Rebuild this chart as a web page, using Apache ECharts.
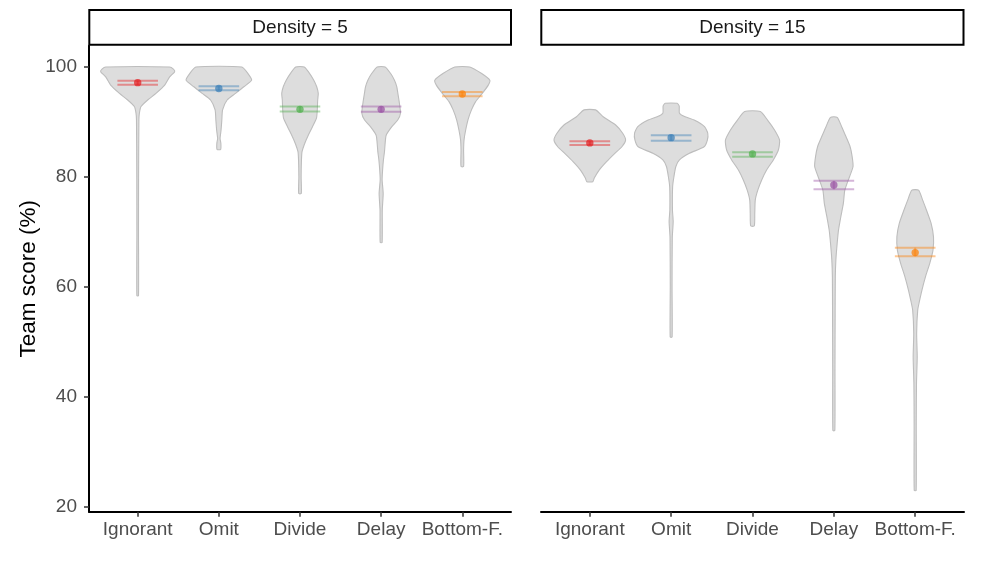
<!DOCTYPE html>
<html>
<head>
<meta charset="utf-8">
<script src="https://cdn.jsdelivr.net/npm/echarts@6/dist/echarts.min.js"></script>
<style>html,body{margin:0;padding:0;background:#fff}#c{width:988px;height:581px}</style>
</head>
<body>
<div id="c"></div>
<script>
// ---- data ----
const categories = ['Ignorant', 'Omit', 'Divide', 'Delay', 'Bottom-F.'];
const panels = ['Density = 5', 'Density = 15'];
const yTickValues = [20, 40, 60, 80, 100];
const palette = ['#E41A1C', '#377EB8', '#4DAF4A', '#984EA3', '#FF7F00'];

// violin profiles: [score, half-width in category units]
const violinD5Ignorant = [[100,0.394],[99.6,0.44],[99.15,0.456],[98.2,0.394],[96.7,0.333],[95.2,0.225],[94.0,0.123],[92.8,0.041],[91.6,0.021],[90.4,0.015],[80,0.011],[70,0.010],[58.4,0.010]];
const violinD5Omit = [[100,0.283],[98.85,0.357],[97.6,0.404],[96.4,0.308],[95.2,0.206],[94.0,0.102],[92.2,0.046],[90.4,0.037],[88.5,0.027],[87.0,0.015],[86.1,0.025],[85.0,0.022]];
const violinD5Divide = [[100,0.052],[98.85,0.117],[97.6,0.170],[96.4,0.206],[95.2,0.225],[94.0,0.218],[92.2,0.213],[90.7,0.203],[89.15,0.154],[87.6,0.102],[86.1,0.058],[84.6,0.025],[83.1,0.018],[80,0.014],[77.0,0.016]];
const violinD5Delay = [[100,0.049],[98.85,0.115],[97.6,0.164],[96.4,0.193],[95.2,0.206],[93.4,0.225],[91.6,0.238],[90.4,0.206],[89.15,0.132],[87.6,0.062],[86.1,0.049],[84.6,0.041],[83.1,0.028],[81.3,0.018],[79.5,0.012],[77.0,0.025],[74,0.014],[68.1,0.012]];
const violinD5BottomF = [[100,0.092],[98.85,0.234],[97.6,0.339],[96.7,0.320],[95.2,0.246],[93.7,0.164],[92.2,0.113],[90.4,0.070],[88.5,0.041],[86.7,0.021],[84.9,0.016],[81.9,0.016]];

const violinD15Ignorant = [[92.2,0.071],[90.95,0.164],[89.45,0.318],[87.95,0.404],[86.7,0.440],[85.5,0.394],[84.3,0.308],[82.8,0.206],[81.3,0.117],[79.8,0.055],[79.15,0.037]];
const violinD15Omit = [[93.4,0.074],[92.9,0.099],[91.6,0.102],[90.95,0.172],[90.35,0.283],[89.15,0.410],[87.95,0.450],[86.7,0.445],[85.5,0.405],[84.3,0.225],[83.1,0.102],[81.9,0.058],[80.05,0.034],[78.2,0.018],[74,0.016],[71.9,0.025],[69,0.014],[60,0.011],[50.9,0.012]];
const violinD15Divide = [[91.9,0.096],[90.35,0.185],[88.55,0.271],[86.7,0.333],[84.9,0.318],[83.1,0.256],[81.3,0.175],[79.45,0.113],[77.6,0.065],[75.8,0.034],[73.4,0.028],[71.1,0.022]];
const violinD15Delay = [[90.85,0.041],[89.15,0.096],[87.3,0.150],[85.5,0.200],[83.7,0.225],[81.9,0.236],[80.05,0.193],[77.6,0.135],[75.2,0.117],[72.8,0.086],[70.4,0.058],[67.95,0.041],[64.9,0.025],[61.9,0.018],[55,0.016],[45,0.014],[33.9,0.012]];
const violinD15BottomF = [[77.6,0.041],[75.8,0.092],[74.0,0.138],[71.6,0.195],[69.15,0.225],[66.7,0.219],[64.3,0.179],[61.9,0.127],[59.45,0.083],[57.6,0.055],[55.8,0.031],[51.6,0.018],[47.3,0.025],[42.5,0.016],[35,0.013],[23.0,0.012]];

// means and confidence limits
const meanD5 = [97.15, 96.1, 92.3, 92.3, 95.1];
const lowerD5 = [96.75, 95.75, 91.9, 91.85, 94.7];
const upperD5 = [97.5, 96.5, 92.8, 92.8, 95.45];
const meanD15 = [86.2, 87.15, 84.2, 78.55, 66.25];
const lowerD15 = [85.8, 86.6, 83.7, 77.75, 65.6];
const upperD15 = [86.5, 87.6, 84.5, 79.3, 67.15];

const violins = [
  [violinD5Ignorant, violinD5Omit, violinD5Divide, violinD5Delay, violinD5BottomF],
  [violinD15Ignorant, violinD15Omit, violinD15Divide, violinD15Delay, violinD15BottomF]
];
const means = [meanD5, meanD15];
const lowers = [lowerD5, lowerD15];
const uppers = [upperD5, upperD15];

// ---- chart ----
const FONT = '"Liberation Sans", Arial, sans-serif';
const chart = echarts.init(document.getElementById('c'), null, {renderer: 'canvas'});

const grids = [
  {left: 89, right: 477, top: 45.8, bottom: 69.3},
  {left: 541, right: 24, top: 45.8, bottom: 69.3}
];

function makeViolinRender(p) {
  return function (params, api) {
    const ci = api.value(0);
    const prof = violins[p][ci];
    const unit = api.size([1, 0])[0];
    const right = [], left = [];
    prof.forEach(function (d) {
      const c = api.coord([ci, d[0]]);
      right.push([c[0] + d[1] * unit, c[1]]);
      left.push([c[0] - d[1] * unit, c[1]]);
    });
    const pts = right.concat(left.reverse());
    return {
      type: 'polygon',
      shape: {points: pts, smooth: 0.2},
      style: {fill: '#dddddd', stroke: '#bdbdbd', lineWidth: 1.1}
    };
  };
}

function makeMeanRender(p) {
  return function (params, api) {
    const ci = api.value(0);
    const unit = api.size([1, 0])[0];
    const m = api.coord([ci, api.value(1)]);
    const lo = api.coord([ci, api.value(2)]);
    const hi = api.coord([ci, api.value(3)]);
    const hw = 0.25 * unit;
    const col = palette[ci];
    return {
      type: 'group',
      children: [
        {type: 'line', shape: {x1: m[0] - hw, y1: lo[1], x2: m[0] + hw, y2: lo[1]}, style: {stroke: col, lineWidth: 2, opacity: 0.42}},
        {type: 'line', shape: {x1: m[0] - hw, y1: hi[1], x2: m[0] + hw, y2: hi[1]}, style: {stroke: col, lineWidth: 2, opacity: 0.42}},
        {type: 'line', shape: {x1: m[0], y1: lo[1], x2: m[0], y2: hi[1]}, style: {stroke: col, lineWidth: 2, opacity: 0.42}},
        {type: 'circle', shape: {cx: m[0], cy: m[1], r: 3.7}, style: {fill: col, opacity: 0.7}}
      ]
    };
  };
}

const xAxes = [0, 1].map(function (p) {
  return {
    type: 'value', gridIndex: p, min: -0.6, max: 4.6,
    splitLine: {show: false},
    axisLine: {show: true, onZero: false, lineStyle: {color: '#000', width: 2}},
    axisTick: {show: true, customValues: [0, 1, 2, 3, 4], length: 5, lineStyle: {color: '#333', width: 1.5}},
    axisLabel: {show: true, customValues: [0, 1, 2, 3, 4], margin: 9, color: '#4d4d4d', fontSize: 19, fontFamily: FONT,
      formatter: function (v) { return categories[Math.round(v)]; }}
  };
});

const yAxes = [0, 1].map(function (p) {
  return {
    type: 'value', gridIndex: p, min: 19.15, max: 103.85,
    show: p === 0,
    name: p === 0 ? 'Team score (%)' : '',
    nameLocation: 'middle', nameGap: 49,
    nameTextStyle: {color: '#000', fontSize: 22.5, fontFamily: FONT},
    splitLine: {show: false},
    axisLine: {show: true, onZero: false, lineStyle: {color: '#000', width: 2}},
    axisTick: {show: true, customValues: yTickValues, length: 5, lineStyle: {color: '#333', width: 1.5}},
    axisLabel: {show: true, customValues: yTickValues, margin: 12, color: '#4d4d4d', fontSize: 19, fontFamily: FONT}
  };
});

const series = [];
[0, 1].forEach(function (p) {
  series.push({
    type: 'custom', xAxisIndex: p, yAxisIndex: p, clip: true,
    renderItem: makeViolinRender(p),
    data: categories.map(function (c, i) { return [i, means[p][i]]; }),
    silent: true, z: 2
  });
  series.push({
    type: 'custom', xAxisIndex: p, yAxisIndex: p,
    renderItem: makeMeanRender(p),
    data: categories.map(function (c, i) { return [i, means[p][i], lowers[p][i], uppers[p][i]]; }),
    silent: true, z: 3
  });
});

const graphics = [];
[[89.3, 511], [541.3, 963.5]].forEach(function (r, p) {
  graphics.push({
    type: 'rect',
    shape: {x: r[0], y: 10, width: r[1] - r[0], height: 34.8},
    style: {fill: '#fff', stroke: '#000', lineWidth: 2}
  });
  graphics.push({
    type: 'text', x: (r[0] + r[1]) / 2, y: 28,
    style: {text: panels[p], fill: '#1a1a1a', fontSize: 19, fontFamily: FONT, align: 'center', verticalAlign: 'middle'}
  });
});

chart.setOption({
  animation: false,
  backgroundColor: '#fff',
  grid: grids,
  xAxis: xAxes,
  yAxis: yAxes,
  series: series,
  graphic: graphics
});
</script>
</body>
</html>
